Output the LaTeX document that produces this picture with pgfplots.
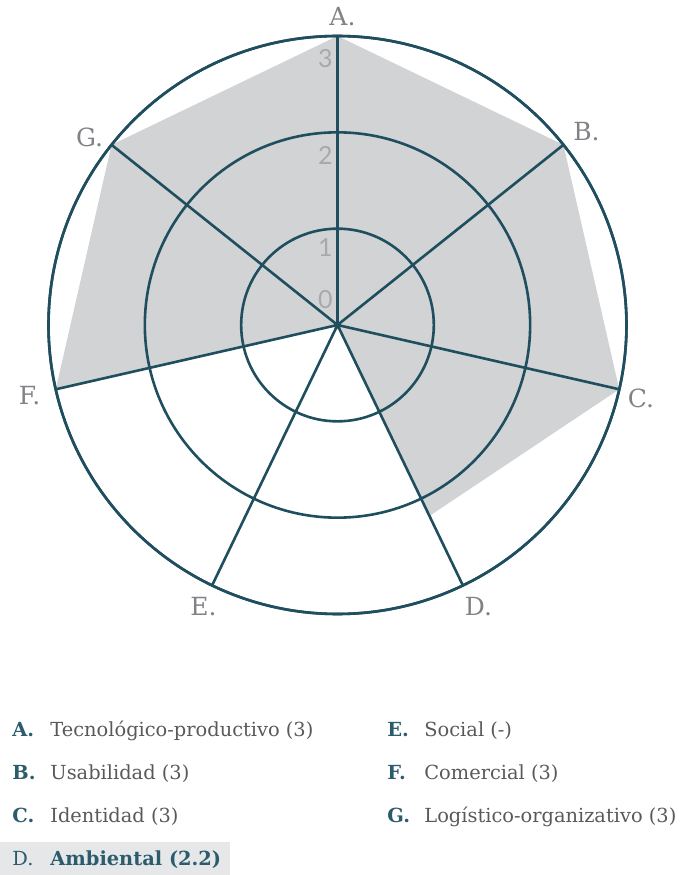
\documentclass[border=0pt]{standalone}
\usepackage{pgfplots}
\pgfplotsset{compat=1.18}
\usepgfplotslibrary{polar}
\usepackage{pgfplotstable}
\usepackage{fontspec}
\setmainfont{DejaVu Serif}
\newfontfamily\numfont{Lato}

\definecolor{spoke}{HTML}{1F4E5F}
\definecolor{fillgray}{HTML}{D1D3D4}
\definecolor{labgray}{HTML}{808285}
\definecolor{txtgray}{HTML}{58595B}
\definecolor{ticgray}{HTML}{A7A9AC}
\definecolor{keyteal}{HTML}{2B5B6C}
\definecolor{hilite}{HTML}{E6E7E8}

% angle (deg) / score
\pgfplotstableread{
ang r
90 3
38.571 3
347.143 3
295.714 2.2
244.286 0
192.857 3
141.429 3
90 3
}\scores

\begin{document}
\begin{tikzpicture}
\path[use as bounding box] (0,0) rectangle (340.5pt,437.5pt);
\fill[hilite] (0,0) rectangle (115pt,16.5pt);
\begin{polaraxis}[
  at={(168.75pt,275pt)}, anchor=center,
  scale only axis, width=289pt, height=289pt,
  ymin=0, ymax=3,
  xtick={90,38.571,347.143,295.714,244.286,192.857,141.429},
  ytick={1,2,3},
  xticklabels={}, yticklabels={},
  major tick length=0pt,
  grid=major,
  major grid style={draw=spoke, line width=1.3pt},
  separate axis lines,
  x axis line style={draw=spoke, line width=1.3pt},
  y axis line style={draw=none},
  axis on top, clip=false,
]
\addplot[fill=fillgray, draw=none] table[x=ang, y=r] {\scores};
% value labels along A spoke
\begin{scope}[every node/.style={font=\numfont\fontsize{12.5}{14}\selectfont, text=ticgray, xshift=-6pt}]
\node at (axis cs:90,2.77) {3};
\node at (axis cs:90,1.765) {2};
\node at (axis cs:90,0.80) {1};
\node at (axis cs:90,0.26) {0};
\end{scope}
% category labels
\begin{scope}[every node/.style={font=\fontsize{12.5}{14}\selectfont, text=labgray}]
\node at (axis cs:89.07,3.20) {A.};
\node at (axis cs:37.78,3.27) {B.};
\node at (axis cs:346.45,3.24) {C.};
\node at (axis cs:296.57,3.27) {D.};
\node at (axis cs:244.58,3.24) {E.};
\node at (axis cs:192.98,3.28) {F.};
\node at (axis cs:142.83,3.23) {G.};
\end{scope}
\end{polaraxis}
% key
\begin{scope}[every node/.style={anchor=base west, inner sep=0pt, font=\fontsize{9.7}{12}\selectfont}]
\node[text=keyteal, font=\fontsize{9.7}{12}\selectfont\bfseries] at (6pt,69.5pt) {A.};
\node[text=txtgray] at (25pt,69.5pt) {Tecnológico-productivo (3)};
\node[text=keyteal, font=\fontsize{9.7}{12}\selectfont\bfseries] at (6pt,48pt) {B.};
\node[text=txtgray] at (25pt,48pt) {Usabilidad (3)};
\node[text=keyteal, font=\fontsize{9.7}{12}\selectfont\bfseries] at (6pt,26.5pt) {C.};
\node[text=txtgray] at (25pt,26.5pt) {Identidad (3)};
\node[text=keyteal] at (6pt,5pt) {D.};
\node[text=keyteal, font=\fontsize{9.7}{12}\selectfont\bfseries] at (25pt,5pt) {Ambiental (2.2)};
\node[text=keyteal, font=\fontsize{9.7}{12}\selectfont\bfseries] at (193.5pt,69.5pt) {E.};
\node[text=txtgray] at (212pt,69.5pt) {Social (-)};
\node[text=keyteal, font=\fontsize{9.7}{12}\selectfont\bfseries] at (193.5pt,48pt) {F.};
\node[text=txtgray] at (212pt,48pt) {Comercial (3)};
\node[text=keyteal, font=\fontsize{9.7}{12}\selectfont\bfseries] at (193.5pt,26.5pt) {G.};
\node[text=txtgray] at (212pt,26.5pt) {Logístico-organizativo (3)};
\end{scope}
\end{tikzpicture}
\end{document}
